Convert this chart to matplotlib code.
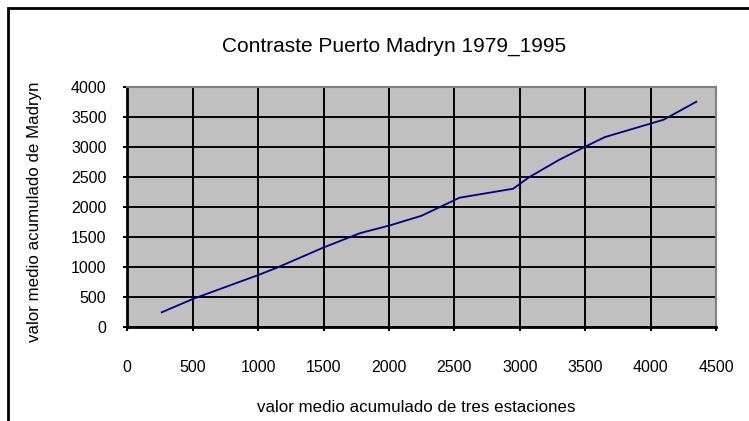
import matplotlib
matplotlib.use("Agg")
import matplotlib.pyplot as plt
from matplotlib.patches import Rectangle

# cumulative means
tres_estaciones = [263, 510, 1000, 1140, 1500, 1780, 2010, 2250, 2540, 2950, 3070, 3300, 3500, 3650, 4100, 4350]
madryn = [240, 470, 860, 980, 1320, 1560, 1690, 1850, 2150, 2300, 2490, 2780, 3000, 3160, 3450, 3750]

x_ticks = [0, 500, 1000, 1500, 2000, 2500, 3000, 3500, 4000, 4500]
y_ticks = [0, 500, 1000, 1500, 2000, 2500, 3000, 3500, 4000]

plt.rcParams['font.family'] = ['Liberation Sans', 'DejaVu Sans']

fig = plt.figure(figsize=(7.49, 4.21), dpi=100)
W, H = 749, 421
ax = fig.add_axes([127.3 / W, 1 - 326.7 / H, (716 - 127.3) / W, (326.7 - 86.7) / H])

ax.set_facecolor('#C0C0C0')
ax.plot(tres_estaciones, madryn, color='#000080', linewidth=1.3, zorder=3)

ax.set_xlim(0, 4500)
ax.set_ylim(0, 4000)
ax.set_xticks(x_ticks)
ax.set_yticks(y_ticks)
ax.grid(True, color='black', linewidth=1.4, zorder=1)
ax.set_axisbelow(True)

for side in ['top', 'right']:
    ax.spines[side].set_color('#808080')
    ax.spines[side].set_linewidth(1.5)
for side in ['left', 'bottom']:
    ax.spines[side].set_color('black')
    ax.spines[side].set_linewidth(2)

ax.tick_params(axis='both', direction='out', length=3, width=1.5, labelsize=11.5, color='black')
ax.tick_params(axis='x', pad=21)
ax.tick_params(axis='y', pad=12)

fig.text(35 / W, 1 - 212 / H, 'valor medio acumulado de Madryn', rotation=90,
         ha='center', va='center', fontsize=12.2)
fig.text(416 / W, 1 - 408 / H, 'valor medio acumulado de tres estaciones',
         ha='center', va='center', fontsize=12.2)
fig.text(394 / W, 1 - 46 / H, 'Contraste Puerto Madryn 1979_1995',
         ha='center', va='center', fontsize=15)

# outer chart frame, cut off on the right and bottom
fig.add_artist(Rectangle((7.5 / W, -0.2), 1.5, 1.2 - 7.5 / H, transform=fig.transFigure,
                         fill=False, edgecolor='black', linewidth=2))

fig.savefig('out.png', dpi=100)
